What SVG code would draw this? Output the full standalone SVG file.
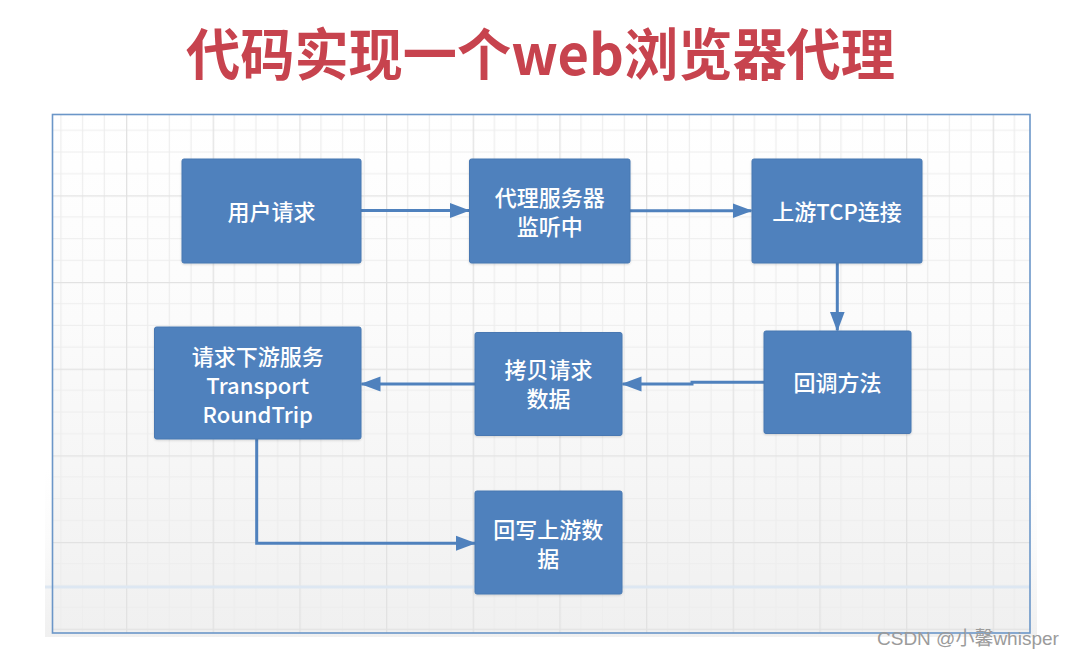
<svg xmlns="http://www.w3.org/2000/svg" width="1072" height="659" viewBox="0 0 1072 659">
<defs>
<pattern id="grid" patternUnits="userSpaceOnUse" x="39.33" y="108.67" width="86.67" height="86.67">
<path d="M21.67 0V86.67M43.33 0V86.67M65 0V86.67M0 21.67H86.67M0 43.33H86.67M0 65H86.67" stroke="#ededed" stroke-width="1.2" fill="none"/>
<path d="M0.6 0V86.67M0 0.6H86.67" stroke="#e2e2e2" stroke-width="1.4" fill="none"/>
</pattern>
<linearGradient id="fade" x1="0" y1="0" x2="0" y2="1">
<stop offset="0" stop-color="#ffffff"/>
<stop offset="0.4" stop-color="#fbfbfb"/>
<stop offset="1" stop-color="#f0f0f0"/>
</linearGradient>
<marker id="arr" viewBox="0 0 20 16" refX="19" refY="8" markerWidth="20" markerHeight="16" markerUnits="userSpaceOnUse" orient="auto">
<path d="M0 0.5L20 8L0 15.5z" fill="#4f81bd"/>
</marker>
<filter id="sh" x="-5%" y="-5%" width="110%" height="115%">
<feDropShadow dx="0" dy="1" stdDeviation="1" flood-color="#000" flood-opacity="0.15"/>
</filter>
</defs>
<style>
.box{fill:#4f81bd;stroke:#4878b2;stroke-width:1;filter:url(#sh)}
.lbl{font-family:"Noto Sans CJK SC","Noto Sans",sans-serif;font-size:22px;font-weight:500;fill:#ffffff;text-anchor:middle}
.con{fill:none;stroke:#4f81bd;stroke-width:3}
</style>
<rect width="1072" height="659" fill="#ffffff"/>
<rect x="45" y="470" width="992" height="167" fill="url(#fade)"/>
<rect x="52" y="114" width="978" height="519" fill="url(#fade)"/>
<rect x="52" y="114" width="978" height="519" fill="url(#grid)"/>
<line x1="45" y1="587" x2="1030" y2="587" stroke="#dde7f2" stroke-width="3"/>
<rect x="52.5" y="114.5" width="977.5" height="518.5" fill="none" stroke="#6b96c8" stroke-width="1.6"/>

<text x="540.5" y="75" font-family="'Noto Sans CJK SC','Noto Sans',sans-serif" font-size="56" font-weight="bold" fill="#c7434e" text-anchor="middle" textLength="709" lengthAdjust="spacingAndGlyphs">代码实现一个web浏览器代理</text>

<g id="connectors">
<path class="con" d="M361 210.5H469" marker-end="url(#arr)"/>
<path class="con" d="M630 210.7H751.5" marker-end="url(#arr)"/>
<path class="con" d="M837.3 263V330.5" marker-end="url(#arr)"/>
<path class="con" d="M764 382.3H692V384H622.5" marker-end="url(#arr)"/>
<path class="con" d="M475 384H361.5" marker-end="url(#arr)"/>
<path class="con" d="M256.7 439V543.3H475" marker-end="url(#arr)"/>
</g>

<g id="n1"><rect class="box" x="182" y="159" width="179" height="104" rx="2"/><text class="lbl" x="271.5" y="220">用户请求</text></g>
<g id="n2"><rect class="box" x="469.5" y="159" width="160.5" height="104" rx="2"/><text class="lbl" x="549.7" y="206">代理服务器</text><text class="lbl" x="549.7" y="235">监听中</text></g>
<g id="n3"><rect class="box" x="752" y="159" width="170" height="104" rx="2"/><text class="lbl" x="837" y="220">上游TCP连接</text></g>
<g id="n4"><rect class="box" x="764" y="331" width="147" height="102.5" rx="2"/><text class="lbl" x="837.5" y="391">回调方法</text></g>
<g id="n5"><rect class="box" x="475" y="332.5" width="147" height="103" rx="2"/><text class="lbl" x="548.5" y="378">拷贝请求</text><text class="lbl" x="548.5" y="407">数据</text></g>
<g id="n6"><rect class="box" x="154.5" y="327" width="206.5" height="112" rx="2"/><text class="lbl" x="257.7" y="364.5">请求下游服务</text><text class="lbl" x="257.7" y="393.5">Transport</text><text class="lbl" x="257.7" y="422.5">RoundTrip</text></g>
<g id="n7"><rect class="box" x="475" y="491" width="147" height="103" rx="2"/><text class="lbl" x="548.3" y="538">回写上游数</text><text class="lbl" x="548.3" y="567">据</text></g>

<text x="877" y="645" font-family="'Liberation Sans','Noto Sans CJK SC',sans-serif" font-size="19" fill="#9b9b9b">CSDN @小馨whisper</text>
</svg>
